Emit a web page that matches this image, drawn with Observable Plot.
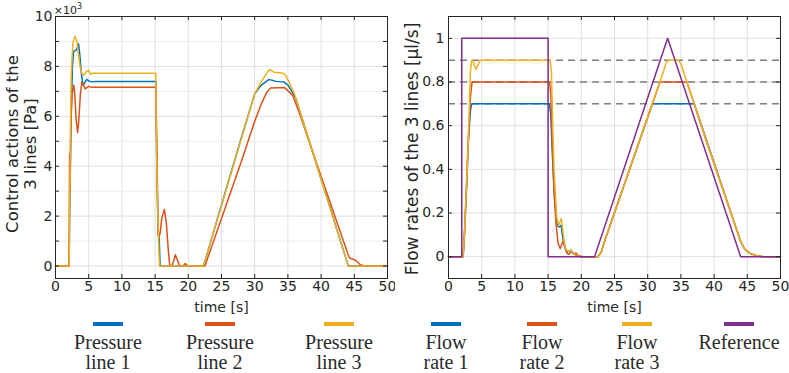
<!DOCTYPE html>
<html>
<head>
<meta charset="utf-8">
<script src="https://cdn.jsdelivr.net/npm/d3@7"></script>
<script src="https://cdn.jsdelivr.net/npm/@observablehq/plot@0.6"></script>
<style>
  html, body { margin: 0; padding: 0; background: #fff; font-weight: 400; }
  #wrap { position: relative; width: 789px; height: 373px; overflow: hidden; background: #fff; font-family: "DejaVu Sans", sans-serif; color: #262626; font-weight: 400; }
  .panel { position: absolute; top: 0; }
  .ylab { position: absolute; transform: translate(-50%, -50%) rotate(-90deg); white-space: nowrap; text-align: center; font-family: "DejaVu Sans", sans-serif; font-weight: 400; color: #262626; }
  .xlab { position: absolute; width: 120px; text-align: center; white-space: nowrap; font-size: 14.5px; line-height: 16px; font-family: "DejaVu Sans", sans-serif; font-weight: 400; color: #262626; }
  .leg { position: absolute; top: 322px; width: 120px; display: flex; flex-direction: column; align-items: center; }
  .sw { width: 30px; height: 4px; }
  .lt { margin-top: 6px; font-family: "Liberation Serif", serif; font-weight: 400; font-size: 20px; line-height: 20px; text-align: center; color: #2a2a2a; white-space: nowrap; }
</style>
</head>
<body>
<div id="wrap"></div>
<script>
// ---------- data ----------
const xTicks = [0, 5, 10, 15, 20, 25, 30, 35, 40, 45, 50];
const pressureTicks = [0, 2000, 4000, 6000, 8000, 10000];
const pressureMinor = [1000, 3000, 5000, 7000, 9000];
const flowTicks = [0, 0.2, 0.4, 0.6, 0.8, 1];
const flowTargets = [0.7, 0.8, 0.9];

// Pressure line 1 (Pa)
const p1Time = [0,2.05,2.15,2.35,2.55,2.72,3.1,3.3,3.47,3.65,3.9,4.15,4.4,4.7,5.0,5.4,6,15.1,15.15,15.3,15.45,15.55,15.62,15.75,22.3,25,28,30,31,32.1,32.6,33.2,34.4,35,35.7,36.2,40,44.1,50];
const p1Val  = [0,0,2500,6000,8000,8600,8650,8750,8900,8500,7700,7250,7350,7480,7420,7380,7400,7400,6000,3500,1300,1150,1100,0,0,2450,5150,6900,7250,7470,7450,7400,7380,7250,6950,6715,3485,0,0];
// Pressure line 2 (Pa)
const p2Time = [0,2.05,2.12,2.2,2.3,2.5,2.75,2.9,3.1,3.32,3.5,3.75,3.98,4.2,4.48,5.0,5.5,15.1,15.15,15.3,15.45,15.55,15.75,16.0,16.4,16.7,17.0,17.2,17.5,17.8,18.05,18.35,18.7,19.2,19.55,19.9,22.5,25,28,30,31,31.8,32.4,34.5,35.1,35.7,36.9,40,44.2,44.5,45.2,45.9,46.6,50];
const p2Val  = [0,0,4500,3000,5600,6900,7250,6900,5900,5350,5800,6900,7380,7250,7100,7200,7160,7160,6700,4000,1500,1150,1300,1900,2270,1700,600,30,0,200,450,250,0,0,100,0,0,1900,4200,5800,6500,6950,7130,7150,7000,6850,6000,3600,360,300,230,50,0,0];
// Pressure line 3 (Pa)
const p3Time = [0,2.05,2.15,2.35,2.6,2.92,3.2,3.4,3.7,4.0,4.33,4.6,4.98,5.3,5.7,6,15.1,15.2,15.4,15.65,22.3,25,28,30,31,32,32.3,32.9,34.1,34.6,35.2,36,40,44.1,50];
const p3Val  = [0,0,3000,7500,8900,9210,9050,8600,8000,7700,7650,7780,7850,7680,7740,7730,7730,5000,2000,0,0,2420,5110,6900,7400,7800,7870,7770,7740,7670,7350,6885,3485,0,0];

// Flow rate 1 (µl/s)
const f1Time = [0,2.2,2.4,2.7,3.0,3.3,3.5,15.2,15.4,15.6,15.9,16.2,16.5,16.7,16.95,17.2,17.5,17.8,18.1,18.45,18.8,19.3,20,22.5,23.0,23.4,30.7,37.0,44.0,44.6,45.4,46.5,47.5,50];
const f1Val  = [0,0,0.1,0.3,0.53,0.67,0.7,0.7,0.65,0.5,0.3,0.18,0.14,0.136,0.144,0.09,0.04,0.02,0.025,0.03,0.015,0.005,0,0,0.02,0.061,0.7,0.7,0.07,0.035,0.015,0.003,0,0];
// Flow rate 2
const f2Time = [0,2.2,2.4,2.7,3.0,3.3,3.55,15.2,15.4,15.6,15.9,16.2,16.5,16.83,17.1,17.33,17.6,17.85,18.1,18.4,18.6,18.9,19.2,19.5,20.5,22.5,23.0,23.4,31.85,35.9,37.0,38.5,44.0,44.6,45.4,46.5,47.5,50];
const f2Val  = [0,0,0.1,0.32,0.55,0.73,0.8,0.8,0.75,0.55,0.3,0.15,0.06,0.037,0.06,0.075,0.04,0.015,0.01,0.02,0.02,0.01,0.017,0.003,0,0,0.02,0.061,0.8,0.8,0.7,0.56,0.07,0.035,0.015,0.003,0,0];
// Flow rate 3
const f3Time = [0,2.2,2.4,2.7,3.0,3.3,3.5,3.7,3.9,4.15,4.4,4.8,15.3,15.5,15.7,15.9,16.08,16.3,16.58,16.98,17.3,17.58,18.0,18.4,18.8,19.3,20,22.5,23.0,23.4,32.4,32.8,33.2,34.6,35.0,35.9,37.0,38.5,44.0,44.6,45.4,46.5,47.5,50];
const f3Val  = [0,0,0.1,0.32,0.55,0.85,0.9,0.9,0.875,0.858,0.875,0.9,0.9,0.85,0.6,0.4,0.3,0.18,0.144,0.174,0.1,0.037,0.025,0.03,0.015,0.003,0,0,0.02,0.061,0.85,0.89,0.9,0.9,0.885,0.8,0.7,0.56,0.07,0.035,0.015,0.003,0,0];
// Reference
const refTime = [0,2,2,15,15,22,33,44,50];
const refVal  = [0,0,1,1,0,0,1,0,0];

const colors = { blue: "#0072BD", red: "#D95319", yellow: "#EDB120", purple: "#7E2F8E" };

const xLabel = "time [s]";
const pressureLegend = ["Pressure\nline 1", "Pressure\nline 2", "Pressure\nline 3"];
const flowLegend = ["Flow\nrate 1", "Flow\nrate 2", "Flow\nrate 3", "Reference"];

// ---------- helpers ----------
const series = (t, v) => t.map((x, i) => ({ t: x, v: v[i] }));
const lineStyle = { x: "t", y: "v", strokeWidth: 1.5, strokeLinejoin: "round" };
const axisColor = "#262626";
const gridColor = "#e0e0e0";
const minorColor = "#ededed";
const xAxisOpts = { ticks: xTicks, tickSize: 0, tickPadding: 3, label: xLabel, labelAnchor: "center", labelArrow: false, labelOffset: 33 };

const wrap = document.getElementById("wrap");

// ---------- left panel ----------
const pMin = -500, pMax = 10000;
const pTickLen = (pMax - pMin) * 4 / 262;
const pAllTicks = d3.range(0, 10001, 1000);
const left = Plot.plot({
  width: 395, height: 315,
  marginLeft: 55, marginRight: 8, marginTop: 16, marginBottom: 37,
  style: { fontFamily: "DejaVu Sans", fontSize: "14px", color: axisColor, background: "white", overflow: "visible" },
  x: { domain: [0, 50] },
  y: { domain: [pMin, pMax] },
  marks: [
    Plot.gridY(pressureMinor, { stroke: minorColor, strokeOpacity: 1 }),
    Plot.gridY(pressureTicks, { stroke: gridColor, strokeOpacity: 1 }),
    Plot.gridX(xTicks, { stroke: gridColor, strokeOpacity: 1 }),
    Plot.line(series(p1Time, p1Val), { ...lineStyle, stroke: colors.blue }),
    Plot.line(series(p2Time, p2Val), { ...lineStyle, stroke: colors.red }),
    Plot.line(series(p3Time, p3Val), { ...lineStyle, stroke: colors.yellow }),
    Plot.ruleX(xTicks, { y1: pMin, y2: pMin + pTickLen, stroke: axisColor }),
    Plot.ruleX(xTicks, { y1: pMax - pTickLen, y2: pMax, stroke: axisColor }),
    Plot.ruleY(pAllTicks, { x1: 0, x2: 0.6, stroke: axisColor }),
    Plot.ruleY(pAllTicks, { x1: 49.4, x2: 50, stroke: axisColor }),
    Plot.frame({ stroke: axisColor, strokeWidth: 1 }),
    Plot.axisX(xAxisOpts),
    Plot.axisY({ ticks: pressureTicks, tickSize: 0, tickPadding: 3, tickFormat: d => d / 1000, label: null })
  ]
});
left.classList.add("panel");
left.style.left = "0px";
wrap.appendChild(left);

// ---------- right panel ----------
const fMin = -0.1, fMax = 1.1;
const fTickLen = (fMax - fMin) * 4 / 262;
const right = Plot.plot({
  width: 394, height: 315,
  marginLeft: 53, marginRight: 9, marginTop: 16, marginBottom: 37,
  style: { fontFamily: "DejaVu Sans", fontSize: "14px", color: axisColor, background: "white", overflow: "visible" },
  x: { domain: [0, 50] },
  y: { domain: [fMin, fMax] },
  marks: [
    Plot.gridY(flowTicks, { stroke: gridColor, strokeOpacity: 1 }),
    Plot.gridX(xTicks, { stroke: gridColor, strokeOpacity: 1 }),
    Plot.ruleY(flowTargets, { stroke: "#808080", strokeWidth: 1.5, strokeDasharray: "7,5" }),
    Plot.line(series(f1Time, f1Val), { ...lineStyle, stroke: colors.blue }),
    Plot.line(series(f2Time, f2Val), { ...lineStyle, stroke: colors.red }),
    Plot.line(series(f3Time, f3Val), { ...lineStyle, stroke: colors.yellow }),
    Plot.line(series(refTime, refVal), { ...lineStyle, stroke: colors.purple }),
    Plot.ruleX(xTicks, { y1: fMin, y2: fMin + fTickLen, stroke: axisColor }),
    Plot.ruleX(xTicks, { y1: fMax - fTickLen, y2: fMax, stroke: axisColor }),
    Plot.ruleY(flowTicks, { x1: 0, x2: 0.6, stroke: axisColor }),
    Plot.ruleY(flowTicks, { x1: 49.4, x2: 50, stroke: axisColor }),
    Plot.frame({ stroke: axisColor, strokeWidth: 1 }),
    Plot.axisX(xAxisOpts),
    Plot.axisY({ ticks: flowTicks, tickSize: 0, tickPadding: 4, tickFormat: d => String(+d.toFixed(1)), label: null })
  ]
});
right.classList.add("panel");
right.style.left = "395px";
wrap.appendChild(right);

// ---------- labels ----------
function addDiv(cls, html, styles) {
  const d = document.createElement("div");
  d.className = cls;
  d.innerHTML = html;
  Object.assign(d.style, styles);
  wrap.appendChild(d);
  return d;
}
addDiv("ylab", "Control actions of the<br>3 lines [Pa]", { left: "22px", top: "144px", fontSize: "16.5px", lineHeight: "18px" });
addDiv("ylab", "Flow rates of the 3 lines [µl/s]", { left: "412px", top: "149px", fontSize: "17px" });
addDiv("xlab", "×10<sup style='font-size:8px;vertical-align:5px'>3</sup>", { left: "8px", top: "0px", fontSize: "11px", lineHeight: "13px" });

// ---------- legend ----------
const legendItems = [
  { label: pressureLegend[0], color: colors.blue, cx: 108 },
  { label: pressureLegend[1], color: colors.red, cx: 220 },
  { label: pressureLegend[2], color: colors.yellow, cx: 339 },
  { label: flowLegend[0], color: colors.blue, cx: 446 },
  { label: flowLegend[1], color: colors.red, cx: 542 },
  { label: flowLegend[2], color: colors.yellow, cx: 637 },
  { label: flowLegend[3], color: colors.purple, cx: 739 }
];
for (const it of legendItems) {
  const d = document.createElement("div");
  d.className = "leg";
  d.style.left = (it.cx - 60) + "px";
  const sw = document.createElement("div");
  sw.className = "sw";
  sw.style.background = it.color;
  const t = document.createElement("div");
  t.className = "lt";
  t.innerHTML = it.label.replace("\n", "<br>");
  d.appendChild(sw);
  d.appendChild(t);
  wrap.appendChild(d);
}
</script>
</body>
</html>
